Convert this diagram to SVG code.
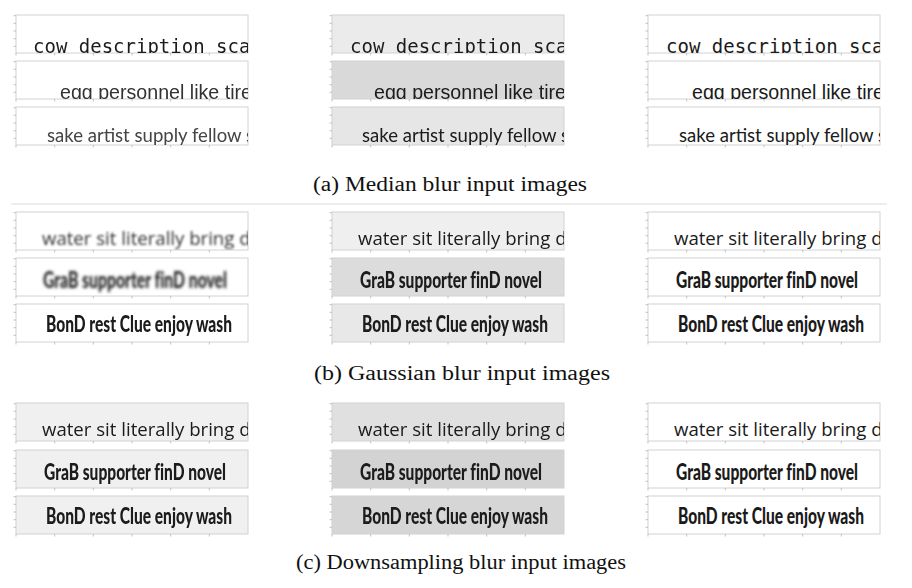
<svg xmlns="http://www.w3.org/2000/svg" xmlns:xlink="http://www.w3.org/1999/xlink" width="912" height="588" viewBox="0 0 912 588">
<style>
.box{stroke:#d2d2d2;stroke-width:1}
.w{fill:#ffffff}
.tk{stroke:#b4b4b4;stroke-width:0.8}
.t{fill:#1a1a1a}
.mono{font-family:"DejaVu Sans Mono","Liberation Mono",monospace;font-size:19px}
.sans{font-family:"Liberation Sans",Arial,sans-serif;font-size:20px}
.cal{font-family:"Lato","Open Sans",sans-serif;font-size:19.5px}
.os{font-family:"Open Sans","Noto Sans",sans-serif;font-size:18.6px}
.comic{font-family:"Lato","DejaVu Sans",sans-serif;font-size:22px;font-weight:900;font-variant-ligatures:none}
.cap{font-family:"Liberation Serif","Times New Roman",serif;font-size:20px;fill:#111}
</style>
<defs>
<filter id="bS" x="-5%" y="-20%" width="110%" height="140%"><feGaussianBlur stdDeviation="0.45"/></filter>
<filter id="bM" x="-5%" y="-30%" width="110%" height="160%"><feGaussianBlur stdDeviation="0.9"/></filter>
<filter id="bL" x="-5%" y="-40%" width="110%" height="180%"><feGaussianBlur stdDeviation="1.8"/></filter>
<g id="ticks">
<path class="tk" d="M-2.5 0.7H0M-2.5 8.3H0M-2.5 16H0M-2.5 23.7H0M-2.5 31.3H0M0 38V40.5M38.7 38V40.5M77.3 38V40.5M116 38V40.5M154.7 38V40.5M193.3 38V40.5"/>
</g>
</defs>

<!-- (a) Median blur -->
<g id="a-left">
<g transform="translate(16,15)"><rect class="box w" width="232" height="38"/><use xlink:href="#ticks"/>
<svg width="232" height="38"><text class="t mono" x="17" y="38" fill="#2a2a2a" filter="url(#bS)">cow description sca</text></svg></g>
<g transform="translate(16,61)"><rect class="box w" width="232" height="38"/><use xlink:href="#ticks"/>
<svg width="232" height="38"><text class="sans" x="44" y="38" fill="#333" textLength="192" lengthAdjust="spacingAndGlyphs" filter="url(#bS)">egg personnel like tire</text></svg></g>
<g transform="translate(16,107)"><rect class="box w" width="232" height="38"/><use xlink:href="#ticks"/>
<svg width="232" height="38"><text class="cal" x="31" y="35" fill="#444" textLength="207" lengthAdjust="spacingAndGlyphs" filter="url(#bS)">sake artist supply fellow s</text></svg></g>
</g>
<g id="a-mid">
<g transform="translate(332,15)"><rect class="box" fill="#ebebeb" width="232" height="38"/><use xlink:href="#ticks"/>
<svg width="232" height="38"><text class="t mono" x="18" y="38" filter="url(#bS)">cow description sca</text></svg></g>
<g transform="translate(332,61)"><rect class="box" fill="#d9d9d9" width="232" height="38"/><use xlink:href="#ticks"/>
<svg width="232" height="38"><text class="t sans" x="42" y="38" textLength="192" lengthAdjust="spacingAndGlyphs" filter="url(#bS)">egg personnel like tire</text></svg></g>
<g transform="translate(332,107)"><rect class="box" fill="#e6e6e6" width="232" height="38"/><use xlink:href="#ticks"/>
<svg width="232" height="38"><text class="t cal" x="30" y="35" textLength="207" lengthAdjust="spacingAndGlyphs" filter="url(#bS)">sake artist supply fellow s</text></svg></g>
</g>
<g id="a-right">
<g transform="translate(648,15)"><rect class="box w" width="232" height="38"/><use xlink:href="#ticks"/>
<svg width="232" height="38"><text class="t mono" x="18" y="38">cow description sca</text></svg></g>
<g transform="translate(648,61)"><rect class="box w" width="232" height="38"/><use xlink:href="#ticks"/>
<svg width="232" height="38"><text class="t sans" x="44" y="38" textLength="192" lengthAdjust="spacingAndGlyphs">egg personnel like tire</text></svg></g>
<g transform="translate(648,107)"><rect class="box w" width="232" height="38"/><use xlink:href="#ticks"/>
<svg width="232" height="38"><text class="t cal" x="31" y="35" textLength="207" lengthAdjust="spacingAndGlyphs">sake artist supply fellow s</text></svg></g>
</g>
<text id="cap-a" class="cap" x="450" y="191" text-anchor="middle" textLength="274" lengthAdjust="spacingAndGlyphs">(a) Median blur input images</text>

<line id="separator" x1="11" y1="204" x2="887" y2="204" stroke="#dcdcdc" stroke-width="1"/>

<!-- (b) Gaussian blur -->
<g id="b-left">
<g transform="translate(16,212)"><rect class="box w" width="232" height="38"/><use xlink:href="#ticks"/>
<svg width="232" height="38"><text class="os" x="26" y="33" fill="#333" filter="url(#bM)">water sit literally bring d</text></svg></g>
<g transform="translate(16,258)"><rect class="box w" width="232" height="38"/><use xlink:href="#ticks"/>
<svg width="232" height="38"><text class="comic" x="27" y="30" fill="#222" textLength="184" lengthAdjust="spacingAndGlyphs" filter="url(#bL)">GraB supporter finD novel</text></svg></g>
<g transform="translate(16,304)"><rect class="box w" width="232" height="38"/><use xlink:href="#ticks"/>
<svg width="232" height="38"><text class="t comic" x="30" y="28" textLength="186" lengthAdjust="spacingAndGlyphs" filter="url(#bS)">BonD rest Clue enjoy wash</text></svg></g>
</g>
<g id="b-mid">
<g transform="translate(332,212)"><rect class="box" fill="#efefef" width="232" height="38"/><use xlink:href="#ticks"/>
<svg width="232" height="38"><text class="t os" x="26" y="33" filter="url(#bS)">water sit literally bring d</text></svg></g>
<g transform="translate(332,258)"><rect class="box" fill="#dcdcdc" width="232" height="38"/><use xlink:href="#ticks"/>
<svg width="232" height="38"><text class="t comic" x="28" y="30" textLength="182" lengthAdjust="spacingAndGlyphs" filter="url(#bS)">GraB supporter finD novel</text></svg></g>
<g transform="translate(332,304)"><rect class="box" fill="#e8e8e8" width="232" height="38"/><use xlink:href="#ticks"/>
<svg width="232" height="38"><text class="t comic" x="30" y="28" textLength="186" lengthAdjust="spacingAndGlyphs" filter="url(#bS)">BonD rest Clue enjoy wash</text></svg></g>
</g>
<g id="b-right">
<g transform="translate(648,212)"><rect class="box w" width="232" height="38"/><use xlink:href="#ticks"/>
<svg width="232" height="38"><text class="t os" x="26" y="33">water sit literally bring d</text></svg></g>
<g transform="translate(648,258)"><rect class="box w" width="232" height="38"/><use xlink:href="#ticks"/>
<svg width="232" height="38"><text class="t comic" x="28" y="30" textLength="182" lengthAdjust="spacingAndGlyphs">GraB supporter finD novel</text></svg></g>
<g transform="translate(648,304)"><rect class="box w" width="232" height="38"/><use xlink:href="#ticks"/>
<svg width="232" height="38"><text class="t comic" x="30" y="28" textLength="186" lengthAdjust="spacingAndGlyphs">BonD rest Clue enjoy wash</text></svg></g>
</g>
<text id="cap-b" class="cap" x="462" y="380" text-anchor="middle" textLength="296" lengthAdjust="spacingAndGlyphs">(b) Gaussian blur input images</text>

<!-- (c) Downsampling blur -->
<g id="c-left">
<g transform="translate(16,403)"><rect class="box" fill="#f0f0f0" width="232" height="38"/><use xlink:href="#ticks"/>
<svg width="232" height="38"><text class="t os" x="26" y="33" filter="url(#bS)">water sit literally bring d</text></svg></g>
<g transform="translate(16,450)"><rect class="box" fill="#f0f0f0" width="232" height="38"/><use xlink:href="#ticks"/>
<svg width="232" height="38"><text class="t comic" x="28" y="30" textLength="182" lengthAdjust="spacingAndGlyphs" filter="url(#bS)">GraB supporter finD novel</text></svg></g>
<g transform="translate(16,496)"><rect class="box" fill="#f0f0f0" width="232" height="38"/><use xlink:href="#ticks"/>
<svg width="232" height="38"><text class="t comic" x="30" y="28" textLength="186" lengthAdjust="spacingAndGlyphs" filter="url(#bS)">BonD rest Clue enjoy wash</text></svg></g>
</g>
<g id="c-mid">
<g transform="translate(332,403)"><rect class="box" fill="#e0e0e0" width="232" height="38"/><use xlink:href="#ticks"/>
<svg width="232" height="38"><text class="t os" x="26" y="33" filter="url(#bS)">water sit literally bring d</text></svg></g>
<g transform="translate(332,450)"><rect class="box" fill="#d3d3d3" width="232" height="38"/><use xlink:href="#ticks"/>
<svg width="232" height="38"><text class="t comic" x="28" y="30" textLength="182" lengthAdjust="spacingAndGlyphs" filter="url(#bS)">GraB supporter finD novel</text></svg></g>
<g transform="translate(332,496)"><rect class="box" fill="#d6d6d6" width="232" height="38"/><use xlink:href="#ticks"/>
<svg width="232" height="38"><text class="t comic" x="30" y="28" textLength="186" lengthAdjust="spacingAndGlyphs" filter="url(#bS)">BonD rest Clue enjoy wash</text></svg></g>
</g>
<g id="c-right">
<g transform="translate(648,403)"><rect class="box w" width="232" height="38"/><use xlink:href="#ticks"/>
<svg width="232" height="38"><text class="t os" x="26" y="33">water sit literally bring d</text></svg></g>
<g transform="translate(648,450)"><rect class="box w" width="232" height="38"/><use xlink:href="#ticks"/>
<svg width="232" height="38"><text class="t comic" x="28" y="30" textLength="182" lengthAdjust="spacingAndGlyphs">GraB supporter finD novel</text></svg></g>
<g transform="translate(648,496)"><rect class="box w" width="232" height="38"/><use xlink:href="#ticks"/>
<svg width="232" height="38"><text class="t comic" x="30" y="28" textLength="186" lengthAdjust="spacingAndGlyphs">BonD rest Clue enjoy wash</text></svg></g>
</g>
<text id="cap-c" class="cap" x="461" y="569" text-anchor="middle" textLength="330" lengthAdjust="spacingAndGlyphs">(c) Downsampling blur input images</text>
</svg>
